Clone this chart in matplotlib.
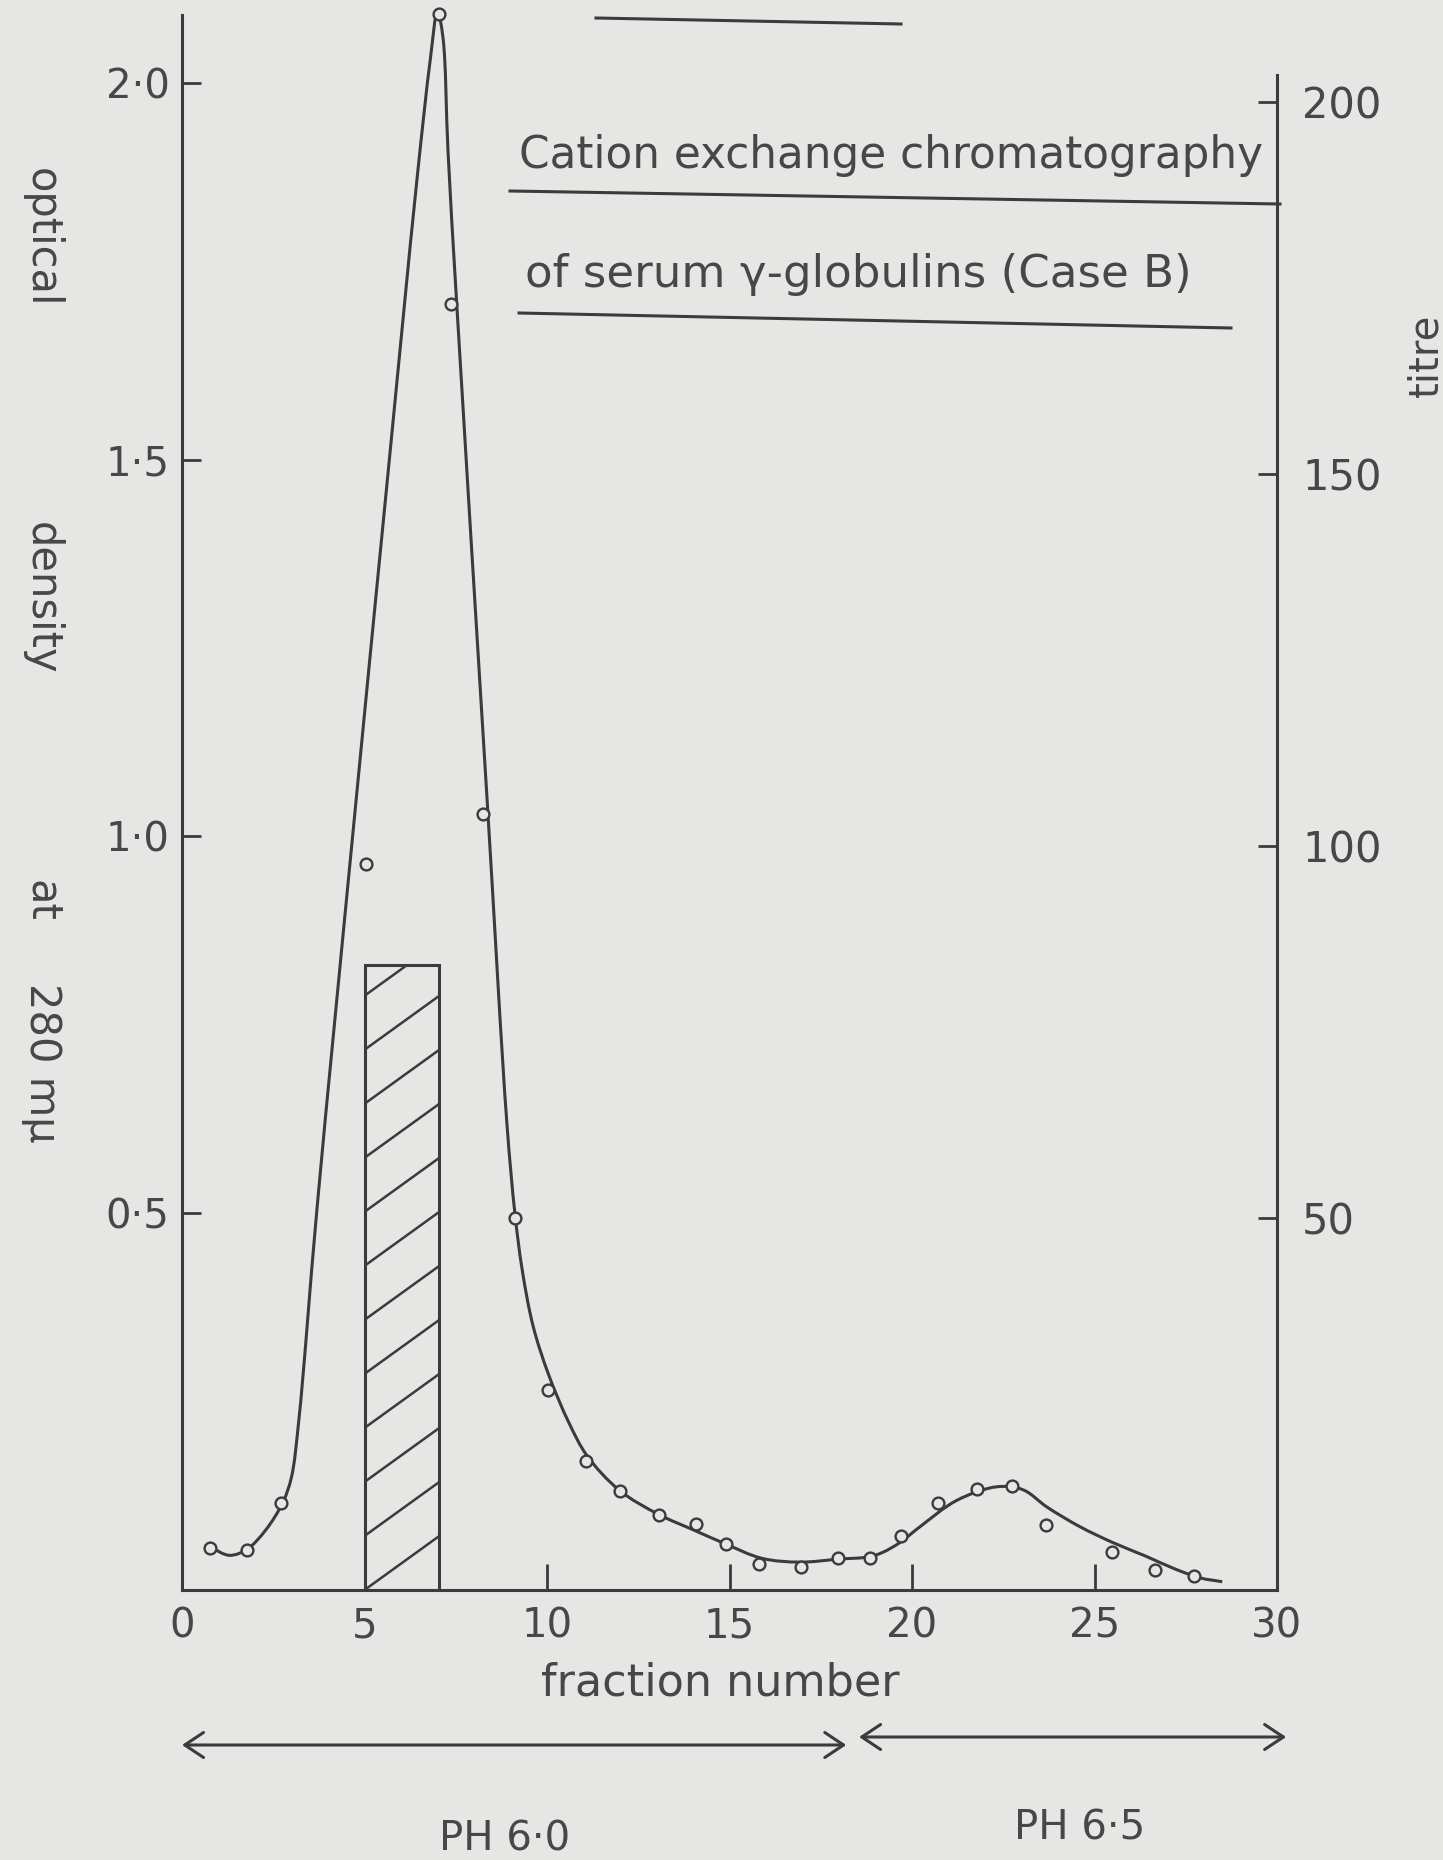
import numpy as np
import matplotlib.pyplot as plt
from matplotlib.path import Path
from matplotlib.patches import PathPatch
from matplotlib.lines import Line2D

plt.rcParams['font.family'] = ['DejaVu Sans']

# measured optical density points (fraction number, OD at 280 mμ)
fraction = [0.77, 1.78, 2.72, 5.03, 7.04, 7.37, 8.25, 9.12, 10.03, 11.07, 11.99, 13.06, 14.07,
            14.91, 15.82, 16.96, 17.97, 18.85, 19.69, 20.70, 21.77, 22.74, 23.66, 25.48, 26.65, 27.72]
optical_density = [0.056, 0.053, 0.116, 0.964, 2.091, 1.707, 1.030, 0.493, 0.266, 0.171, 0.132, 0.099, 0.088,
                   0.061, 0.034, 0.030, 0.042, 0.042, 0.071, 0.115, 0.134, 0.138, 0.086, 0.050, 0.027, 0.019]

# hand drawn smooth curve
curve_x = [0.77, 1.30, 1.78, 2.30, 2.77, 3.00, 3.20, 3.70, 4.77, 5.60, 6.44, 6.80, 7.00, 7.15, 7.29,
           7.53, 8.36, 8.90, 9.12, 9.32, 9.62, 10.05, 10.60, 11.10, 11.99, 13.07, 14.00, 14.85, 15.89,
           16.93, 18.00, 18.82, 19.20, 19.67, 20.22, 21.23, 22.33, 23.04, 23.70, 24.60, 25.50, 26.40,
           27.20, 27.90, 28.50]
curve_y = [0.057, 0.046, 0.054, 0.080, 0.117, 0.150, 0.225, 0.507, 1.048, 1.460, 1.873, 2.030, 2.095,
           2.060, 1.907, 1.704, 1.048, 0.620, 0.500, 0.425, 0.350, 0.285, 0.222, 0.178, 0.132, 0.100,
           0.080, 0.062, 0.042, 0.037, 0.041, 0.044, 0.050, 0.063, 0.084, 0.119, 0.137, 0.133, 0.110,
           0.084, 0.063, 0.045, 0.028, 0.016, 0.011]

# titre bar (fractions 5-7)
bar_start = 5.0
bar_width = 2.05
bar_titre = 84

od_ticks = [0.5, 1.0, 1.5, 2.0]
od_labels = ['0·5', '1·0', '1·5', '2·0']
titre_ticks = [50, 100, 150, 200]
x_ticks = [0, 5, 10, 15, 20, 25, 30]

ph_ranges = [(0.0, 18.2), (18.55, 30.25)]
ph_names = ['PH 6·0', 'PH 6·5']
ph_centres = [8.85, 24.6]

W, H = 1443, 1860
paper = '#e6e6e4'
ink = '#3b3b3b'
txt = '#474747'


def fx(px):
    return px / W


def fy(py):
    return 1 - py / H


def smooth_path(xs, ys, sx=36.5, sy=753.5, a=0.5):
    # centripetal catmull-rom through the read points, as bezier segments
    P = np.column_stack([np.asarray(xs) * sx, np.asarray(ys) * sy])
    E = np.vstack([2 * P[0] - P[1], P, 2 * P[-1] - P[-2]])
    verts = [P[0]]
    codes = [Path.MOVETO]
    for i in range(len(P) - 1):
        p0, p1, p2, p3 = E[i], E[i + 1], E[i + 2], E[i + 3]
        d1 = np.linalg.norm(p1 - p0) ** a
        d2 = np.linalg.norm(p2 - p1) ** a
        d3 = np.linalg.norm(p3 - p2) ** a
        b1 = (d1 ** 2 * p2 - d2 ** 2 * p0 + (2 * d1 ** 2 + 3 * d1 * d2 + d2 ** 2) * p1) / (3 * d1 * (d1 + d2))
        b2 = (d3 ** 2 * p1 - d2 ** 2 * p3 + (2 * d3 ** 2 + 3 * d3 * d2 + d2 ** 2) * p2) / (3 * d3 * (d3 + d2))
        verts += [b1, b2, p2]
        codes += [Path.CURVE4] * 3
    verts = np.array(verts) / [sx, sy]
    return Path(verts, codes)


fig = plt.figure(figsize=(W / 100, H / 100), dpi=100, facecolor=paper)
ax = fig.add_axes([fx(182), fy(1590), fx(1277) - fx(182), fy(15) - fy(1590)])
ax.set_facecolor('none')

od_top = 2.09
titre_per_od = 753.5 * 50 / 372
ax.set_xlim(0, 30)
ax.set_ylim(0, od_top)

ax2 = ax.twinx()
ax2.set_ylim(0, od_top * titre_per_od)

# titre bar with sparse diagonal hatching
bars = ax2.bar([bar_start], [bar_titre], width=bar_width, align='edge',
               facecolor='none', edgecolor=ink, linewidth=2.2, zorder=2)
patch = bars.patches[0]
step = 7.26
for k in range(-1, int(bar_titre / step) + 2):
    ln, = ax2.plot([bar_start, bar_start + bar_width], [k * step, (k + 1) * step],
                   color=ink, lw=1.8, zorder=2)
    ln.set_clip_path(patch)

# curve and points
ax.add_patch(PathPatch(smooth_path(curve_x, curve_y), facecolor='none',
                       edgecolor=ink, lw=2.2, zorder=3, clip_on=False))
ax.plot(fraction, optical_density, 'o', ms=8.5, mfc=paper, mec=ink, mew=1.7,
        zorder=4, clip_on=False)

# spines
for s in ['top', 'right']:
    ax.spines[s].set_visible(False)
for s in ['top', 'left', 'bottom']:
    ax2.spines[s].set_visible(False)
for s in ['left', 'bottom']:
    ax.spines[s].set_color(ink)
    ax.spines[s].set_linewidth(2.2)
ax2.spines['right'].set_color(ink)
ax2.spines['right'].set_linewidth(2.2)
ax2.spines['right'].set_bounds(0, 203.6)

ax.set_xticks(x_ticks)
ax.set_xticklabels([str(t) for t in x_ticks])
ax.set_yticks(od_ticks)
ax.set_yticklabels(od_labels)
ax2.set_yticks(titre_ticks)
ax2.set_yticklabels([str(t) for t in titre_ticks])

ax.tick_params(axis='x', direction='in', length=19, width=2, color=ink,
               labelsize=29, labelcolor=txt, pad=12)
ax.tick_params(axis='y', direction='in', length=14, width=2, color=ink,
               labelsize=29, labelcolor=txt, pad=9)
ax2.tick_params(axis='y', direction='in', length=14, width=2, color=ink,
                labelsize=30, labelcolor=txt, pad=18)

# title and underlines
fig.text(fx(519), fy(168), 'Cation exchange chromatography', fontsize=31.5,
         color=txt, ha='left', va='baseline')
fig.text(fx(525), fy(287), 'of serum γ-globulins (Case B)', fontsize=32.5,
         color=txt, ha='left', va='baseline')
for (x0, y0, x1, y1) in [(596, 18, 901, 24), (510, 191, 1280, 204), (519, 313, 1231, 328)]:
    fig.add_artist(Line2D([fx(x0), fx(x1)], [fy(y0), fy(y1)], color=ink, lw=2.2))

# axis labels
for word, yc in [('optical', 238), ('density', 598), ('at', 901), ('280 mμ', 1063)]:
    fig.text(fx(42), fy(yc), word, rotation=-90, fontsize=30, color=txt,
             ha='center', va='center')
fig.text(fx(1426), fy(355), 'titre', rotation=90, fontsize=29, color=txt,
         ha='center', va='center')
fig.text(fx(720), fy(1683), 'fraction number', fontsize=32, color=txt,
         ha='center', va='center')

# pH ranges
for (x0, x1), yp in zip(ph_ranges, [1745, 1737]):
    ax.annotate('', xy=(x1, fy(yp)), xycoords=('data', 'figure fraction'),
                xytext=(x0, fy(yp)), textcoords=('data', 'figure fraction'),
                arrowprops=dict(arrowstyle='<->,head_length=0.45,head_width=0.3',
                                lw=2.2, color=ink, mutation_scale=30,
                                shrinkA=0, shrinkB=0),
                annotation_clip=False)
for name, xc, yp in zip(ph_names, ph_centres, [1839, 1828]):
    ax.annotate(name, xy=(xc, fy(yp)), xycoords=('data', 'figure fraction'),
                ha='center', va='center', fontsize=29, color=txt,
                annotation_clip=False)

fig.savefig('out.png', dpi=100, facecolor=paper)
